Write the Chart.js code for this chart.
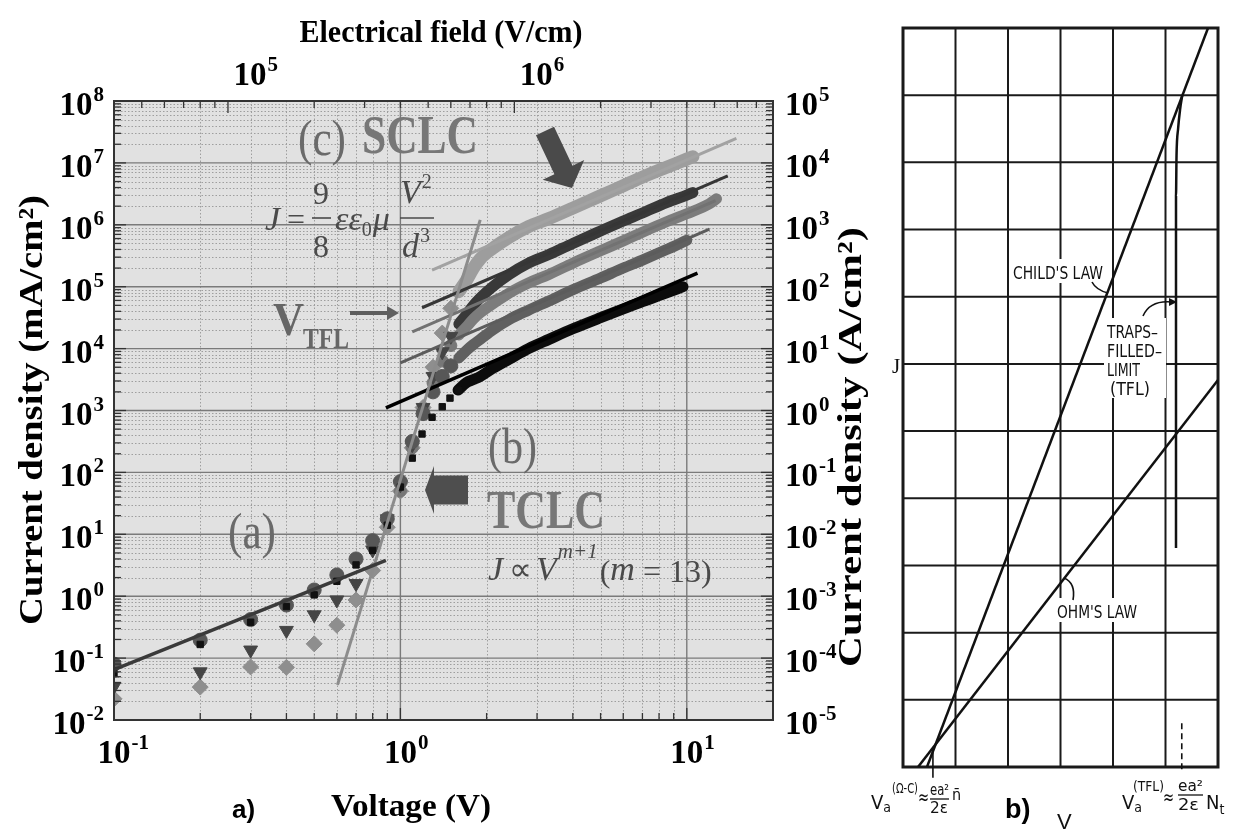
<!DOCTYPE html>
<html>
<head>
<meta charset="utf-8">
<script src="https://cdn.jsdelivr.net/npm/chart.js@4.4.1/dist/chart.umd.min.js"></script>
<style>
  html, body { margin: 0; padding: 0; background: #fff; }
  #wrap { position: relative; width: 1234px; height: 830px; overflow: hidden; background: #fff; }
  #chartA { position: absolute; left: 0; top: 0; }
  #chartB { position: absolute; left: 860px; top: 0; }
</style>
</head>
<body>
<div id="wrap">
  <canvas id="chartA" width="1234" height="830"></canvas>
  <canvas id="chartB" width="374" height="830"></canvas>
</div>
<script>
// ---------- panel a: J-V data (V in volts, J in mA/cm^2) ----------
const lowVolts = [0.1, 0.2, 0.3, 0.4, 0.5, 0.6, 0.7, 0.8, 0.9, 1.0, 1.1, 1.2, 1.3, 1.4, 1.5];
const diamondJ  = [0.022, 0.034, 0.072, 0.071, 0.17, 0.34, 0.87, 2.6, 13, 50, 250, 1120, 5000, 17800, 44700];
const triangleJ = [0.035, 0.06, 0.135, 0.28, 0.5, 0.87, 1.6, 5.6, 17.8, 63, 280, 1120, 3550, 8900, 15800];
const circleJ   = [0.08, 0.195, 0.42, 0.72, 1.26, 2.2, 4.0, 7.9, 17.8, 71, 316, 890, 2000, 3550, 5250];

const squareVolts = [0.1, 0.2, 0.3, 0.4, 0.5, 0.6, 0.7, 0.8, 0.9, 1.0, 1.1, 1.19, 1.29, 1.4, 1.49, 1.59];
const squareJ     = [0.056, 0.166, 0.38, 0.68, 1.05, 1.74, 3.2, 5.5, 14, 58, 170, 417, 776, 1150, 1585, 2140];

const greyVolts = [1.0, 1.1, 1.2, 1.3, 1.4, 1.5];
const greyJ     = [50, 250, 1000, 2800, 6300, 11200];

// dense high-voltage sweeps
const strip1Volts = [1.6, 1.7, 1.8, 1.9, 2.1, 2.4, 2.8, 3.3, 4, 5, 6, 7, 8.5, 10, 10.5];
const strip1J = [83000, 126000, 200000, 282000, 417000, 631000, 933000, 1.26e6, 1.86e6, 2.95e6, 4.27e6, 5.89e6, 8.51e6, 1.15e7, 1.26e7];
const strip2Volts = [1.6, 1.7, 1.8, 1.9, 2.1, 2.4, 2.8, 3.3, 4, 5, 6, 7, 8.5, 10, 10.5];
const strip2J = [25100, 35500, 50100, 66100, 100000, 158000, 240000, 331000, 501000, 794000, 1.15e6, 1.55e6, 2.29e6, 3.02e6, 3.31e6];
const strip3Volts = [1.6, 1.7, 1.8, 1.9, 2.1, 2.4, 2.8, 3.3, 4, 5, 6, 7, 8.5, 10, 12, 12.7];
const strip3J = [16600, 22400, 30200, 38000, 52500, 79400, 115000, 158000, 240000, 380000, 550000, 759000, 1.12e6, 1.51e6, 2.19e6, 2.63e6];
const strip4Volts = [1.6, 1.7, 1.8, 1.9, 2.1, 2.4, 2.8, 3.3, 4, 5, 6, 7, 8.5, 10];
const strip4J = [7080, 9330, 11700, 14100, 20000, 29500, 41700, 58900, 89100, 138000, 200000, 269000, 398000, 562000];
const strip5Volts = [1.59, 1.7, 1.8, 1.9, 2.1, 2.4, 2.8, 3.3, 4, 5, 6, 7, 8.5, 9.7];
const strip5J = [2140, 2820, 3160, 3550, 4790, 6760, 10000, 14100, 20900, 31600, 43700, 57500, 79400, 100000];

// fitted lines, two end points each
const ohmFitV = [0.1, 0.89],  ohmFitJ = [0.065, 3.8];
const tclcFitV = [0.603, 1.9], tclcFitJ = [0.037, 1.2e6];
const fit1V = [1.29, 14.9], fit1J = [1.86e5, 2.5e7];
const fit2V = [1.19, 13.9], fit2J = [4.57e4, 6.17e6];
const fit3V = [1.1, 12.6],  fit3J = [1.86e4, 2.45e6];
const fit4V = [1.0, 12.0],  fit4J = [5890, 8.5e5];
const fit5V = [0.89, 10.9], fit5J = [1100, 1.66e5];

// axis ranges and labelled decades
const voltRange = [0.1, 20];
const jRange = [0.01, 1e8];        // mA/cm^2
const jRangeA = [1e-5, 1e5];       // A/cm^2
const fieldRange = [4e4, 8e6];     // V/cm
const leftExps = [-2, -1, 0, 1, 2, 3, 4, 5, 6, 7, 8];
const rightExps = [-5, -4, -3, -2, -1, 0, 1, 2, 3, 4, 5];
const bottomExps = [-1, 0, 1];
const topExps = [5, 6];

// ---------- panel b: schematic J-V on a grid ----------
const childV = [0.457, 5.81], childJ = [0, 11];
const ohmV = [0.286, 6.0], ohmJ = [0, 5.76];
const tflV = [5.2, 5.2, 5.21, 5.24, 5.28, 5.32], tflJ = [3.26, 8.5, 9.1, 9.5, 9.8, 10.0];
const crossTickV = [0.57, 0.57], crossTickJ = [0.28, -0.16];
const tflTickV = [5.31, 5.31], tflTickJ = [0.65, -0.09];

const pts = (xs, ys) => xs.map((v, i) => ({ x: v, y: ys[i] }));

const SERIF = '"Liberation Serif", "Times New Roman", serif';
const NARROW = '"Liberation Sans Narrow", "DejaVu Sans Condensed", sans-serif';
const SANS = '"Liberation Sans", Arial, sans-serif';

// text helper: optional target width squeezes the glyphs horizontally
function txt(ctx, s, x, y, font, color, align, w) {
  ctx.save();
  ctx.font = font;
  ctx.fillStyle = color;
  ctx.textAlign = 'left';
  ctx.textBaseline = 'alphabetic';
  const m = ctx.measureText(s).width;
  const sx = w ? w / m : 1;
  let left = x;
  if (align === 'center') left = x - m * sx / 2;
  else if (align === 'right') left = x - m * sx;
  ctx.translate(left, y);
  ctx.scale(sx, 1);
  ctx.fillText(s, 0, 0);
  ctx.restore();
  return left + m * sx;
}

// "10" with a raised exponent, y is the middle of the digits
function power(ctx, exp, x, y, align) {
  const base = 'bold 33px ' + SERIF, sup = 'bold 21px ' + SERIF;
  ctx.font = base; const wb = ctx.measureText('10').width;
  ctx.font = sup; const ws = ctx.measureText(String(exp)).width;
  let x0 = x;
  if (align === 'center') x0 = x - wb / 2;
  else if (align === 'right') x0 = x - wb - ws - 1;
  txt(ctx, '10', x0, y + 11, base, '#000');
  txt(ctx, String(exp), x0 + wb + 1, y - 3, sup, '#000');
}

function logValues(min, max) {
  const out = [];
  for (let e = Math.floor(Math.log10(min)); e <= Math.ceil(Math.log10(max)); e++) {
    for (let k = 1; k <= 9; k++) {
      const v = k * Math.pow(10, e);
      if (v >= min * 0.999 && v <= max * 1.001) out.push({ v, major: k === 1 });
    }
  }
  return out;
}

function line(ctx, x1, y1, x2, y2) {
  ctx.beginPath(); ctx.moveTo(x1, y1); ctx.lineTo(x2, y2); ctx.stroke();
}

function blockArrow(ctx, tx, ty, fx, fy, shaftW, headW, headL, color) {
  const dx = tx - fx, dy = ty - fy, L = Math.hypot(dx, dy);
  const ux = dx / L, uy = dy / L, nx = -uy, ny = ux;
  const bx = tx - ux * headL, by = ty - uy * headL;
  ctx.save();
  ctx.fillStyle = color;
  ctx.beginPath();
  ctx.moveTo(fx + nx * shaftW / 2, fy + ny * shaftW / 2);
  ctx.lineTo(bx + nx * shaftW / 2, by + ny * shaftW / 2);
  ctx.lineTo(bx + nx * headW / 2, by + ny * headW / 2);
  ctx.lineTo(tx, ty);
  ctx.lineTo(bx - nx * headW / 2, by - ny * headW / 2);
  ctx.lineTo(bx - nx * shaftW / 2, by - ny * shaftW / 2);
  ctx.lineTo(fx - nx * shaftW / 2, fy - ny * shaftW / 2);
  ctx.closePath();
  ctx.fill();
  ctx.restore();
}

const panelA = {
  id: 'panelA',
  beforeDraw(chart) {
    const { ctx, width, height } = chart;
    ctx.save(); ctx.fillStyle = '#fff'; ctx.fillRect(0, 0, width, height); ctx.restore();
  },
  beforeDatasetsDraw(chart) {
    const { ctx, chartArea: a, scales } = chart;
    ctx.save();
    ctx.fillStyle = '#e1e1e1';
    ctx.fillRect(a.left, a.top, a.width, a.height);
    const xs = logValues(voltRange[0], voltRange[1]);
    const ys = logValues(jRange[0], jRange[1]);
    // dotted minor grid
    ctx.strokeStyle = '#9e9e9e'; ctx.lineWidth = 1; ctx.setLineDash([1.5, 2]);
    xs.filter(t => !t.major).forEach(t => {
      const p = Math.round(scales.x.getPixelForValue(t.v)) + 0.5;
      line(ctx, p, a.top, p, a.bottom);
    });
    ys.filter(t => !t.major).forEach(t => {
      const p = Math.round(scales.y.getPixelForValue(t.v)) + 0.5;
      line(ctx, a.left, p, a.right, p);
    });
    // solid decade grid
    ctx.setLineDash([]);
    ctx.strokeStyle = '#7a7a7a'; ctx.lineWidth = 1.4;
    xs.filter(t => t.major).forEach(t => {
      const p = scales.x.getPixelForValue(t.v);
      line(ctx, p, a.top, p, a.bottom);
    });
    ys.filter(t => t.major).forEach(t => {
      const p = scales.y.getPixelForValue(t.v);
      line(ctx, a.left, p, a.right, p);
    });
    ctx.restore();
  },
  afterDatasetsDraw(chart) {
    const { ctx, chartArea: a, scales } = chart;
    ctx.save();
    // frame and inward ticks
    ctx.strokeStyle = '#333'; ctx.lineWidth = 2;
    ctx.strokeRect(a.left, a.top, a.width, a.height);
    ctx.lineWidth = 1.3;
    logValues(jRange[0], jRange[1]).forEach(t => {
      const p = scales.y.getPixelForValue(t.v), L = t.major ? 12 : 7;
      line(ctx, a.left, p, a.left + L, p);
    });
    logValues(jRangeA[0], jRangeA[1]).forEach(t => {
      const p = scales.yA.getPixelForValue(t.v), L = t.major ? 12 : 7;
      line(ctx, a.right, p, a.right - L, p);
    });
    logValues(voltRange[0], voltRange[1]).forEach(t => {
      const p = scales.x.getPixelForValue(t.v), L = t.major ? 12 : 7;
      line(ctx, p, a.bottom, p, a.bottom - L);
    });
    logValues(fieldRange[0], fieldRange[1]).forEach(t => {
      const p = scales.xE.getPixelForValue(t.v), L = t.major ? 12 : 7;
      line(ctx, p, a.top, p, a.top + L);
    });

    // tick labels
    leftExps.forEach(e => power(ctx, e, a.left - 10, scales.y.getPixelForValue(Math.pow(10, e)) + 3, 'right'));
    rightExps.forEach(e => power(ctx, e, a.right + 12, scales.yA.getPixelForValue(Math.pow(10, e)) + 3, 'left'));
    bottomExps.forEach(e => power(ctx, e, scales.x.getPixelForValue(Math.pow(10, e)), 752, 'center'));
    topExps.forEach(e => power(ctx, e, scales.xE.getPixelForValue(Math.pow(10, e)) + 22, 74, 'center'));

    // axis titles
    txt(ctx, 'Electrical field (V/cm)', 441, 42, 'bold 32px ' + SERIF, '#000', 'center', 283);
    txt(ctx, 'Voltage (V)', 411, 816, 'bold 32px ' + SERIF, '#000', 'center', 160);
    txt(ctx, 'a)', 232, 818, 'bold 26px ' + SANS, '#000', 'left');
    ctx.save();
    ctx.translate(42, 410); ctx.rotate(-Math.PI / 2);
    txt(ctx, 'Current density (mA/cm\u00b2)', 0, 0, 'bold 34px ' + SERIF, '#000', 'center', 430);
    ctx.restore();
    ctx.save();
    ctx.translate(861, 447); ctx.rotate(-Math.PI / 2);
    txt(ctx, 'Current density (A/cm\u00b2)', 0, 0, 'bold 34px ' + SERIF, '#000', 'center', 440);
    ctx.restore();

    // regime labels
    const g1 = '#6a6a6a', g2 = '#777';
    txt(ctx, '(c)', 298, 155, '50px ' + SERIF, g1, 'left', 48);
    txt(ctx, 'SCLC', 362, 153, 'bold 54px ' + SERIF, g2, 'left', 116);
    txt(ctx, '(b)', 488, 463, '50px ' + SERIF, g1, 'left', 49);
    txt(ctx, 'TCLC', 487, 528, 'bold 54px ' + SERIF, g2, 'left', 118);
    txt(ctx, '(a)', 228, 548, '50px ' + SERIF, g1, 'left', 48);

    // Mott-Gurney relation
    const eq = '#4a4a4a', it = 'italic 34px ' + SERIF, rm = '32px ' + SERIF;
    txt(ctx, 'J', 265, 230, it, eq, 'left');
    txt(ctx, '=', 287, 230, rm, eq, 'left');
    txt(ctx, '9', 321, 204, rm, eq, 'center');
    ctx.strokeStyle = eq; ctx.lineWidth = 1.6;
    line(ctx, 312, 218, 331, 218);
    txt(ctx, '8', 321, 257, rm, eq, 'center');
    let ex = txt(ctx, '\u03b5\u03b5', 335, 230, it, eq, 'left');
    ex = txt(ctx, '0', ex, 236, '20px ' + SERIF, eq, 'left');
    txt(ctx, '\u03bc', ex + 1, 230, it, eq, 'left');
    ex = txt(ctx, 'V', 400, 203, it, eq, 'left');
    txt(ctx, '2', ex + 1, 188, '20px ' + SERIF, eq, 'left');
    line(ctx, 400, 218, 434, 218);
    ex = txt(ctx, 'd', 402, 257, it, eq, 'left');
    txt(ctx, '3', ex + 1, 242, '20px ' + SERIF, eq, 'left');

    // trap-limited power law
    ex = txt(ctx, 'J', 488, 580, it, eq, 'left');
    ex = txt(ctx, '\u221d', ex + 6, 580, rm, eq, 'left');
    ex = txt(ctx, 'V', ex + 4, 580, it, eq, 'left');
    ex = txt(ctx, 'm+1', ex + 1, 558, 'italic 21px ' + SERIF, eq, 'left');
    ex = txt(ctx, '(', ex + 2, 582, rm, eq, 'left');
    ex = txt(ctx, 'm', ex, 580, it, eq, 'left');
    ex = txt(ctx, ' = 13)', ex, 582, rm, eq, 'left');

    // V_TFL marker
    txt(ctx, 'V', 273, 335, 'bold 46px ' + SERIF, '#666', 'left', 31);
    txt(ctx, 'TFL', 303, 348, 'bold 30px ' + SERIF, '#666', 'left', 46);
    ctx.strokeStyle = '#5e5e5e'; ctx.lineWidth = 4;
    line(ctx, 350, 313, 390, 313);
    ctx.fillStyle = '#5e5e5e';
    ctx.beginPath(); ctx.moveTo(399, 313); ctx.lineTo(387, 306); ctx.lineTo(387, 320); ctx.closePath(); ctx.fill();

    // block arrows
    blockArrow(ctx, 572, 188, 545, 131, 20, 46, 20, '#4a4a4a');
    blockArrow(ctx, 425, 490, 468, 490, 29, 48, 9, '#4e4e4e');
    ctx.restore();
  }
};

const lineSet = (xs, ys, color, w) => ({
  data: pts(xs, ys), borderColor: color, borderWidth: w, pointRadius: 0, showLine: true, fill: false
});
const markSet = (xs, ys, color, style, r, rot) => ({
  data: pts(xs, ys), showLine: false, pointStyle: style, pointRadius: r, pointRotation: rot || 0,
  backgroundColor: color, borderColor: color, borderWidth: 1
});
const stripSet = (xs, ys, color, w) => ({
  data: pts(xs, ys), borderColor: color, borderWidth: w, pointRadius: 0, showLine: true,
  fill: false, cubicInterpolationMode: 'monotone', borderCapStyle: 'round'
});

new Chart(document.getElementById('chartA'), {
  type: 'scatter',
  data: {
    datasets: [
      lineSet(ohmFitV, ohmFitJ, '#3a3a3a', 3.5),
      lineSet(tclcFitV, tclcFitJ, '#8c8c8c', 3),
      lineSet(fit1V, fit1J, '#a2a2a2', 3),
      lineSet(fit2V, fit2J, '#363636', 3),
      lineSet(fit3V, fit3J, '#727272', 3),
      lineSet(fit4V, fit4J, '#5c5c5c', 3),
      lineSet(fit5V, fit5J, '#000', 3.5),
      markSet(squareVolts, squareJ, '#111', 'rect', 4.5),
      markSet(lowVolts, circleJ, '#575757', 'circle', 7),
      markSet(lowVolts, triangleJ, '#454545', 'triangle', 8, 180),
      markSet(greyVolts, greyJ, '#777', 'circle', 6),
      markSet(lowVolts, diamondJ, '#8e8e8e', 'rectRot', 8),
      stripSet(strip5Volts, strip5J, '#0c0c0c', 11),
      stripSet(strip4Volts, strip4J, '#606060', 11),
      stripSet(strip3Volts, strip3J, '#7c7c7c', 11),
      stripSet(strip2Volts, strip2J, '#393939', 11),
      stripSet(strip1Volts, strip1J, '#9d9d9d', 13)
    ]
  },
  options: {
    responsive: false,
    animation: false,
    layout: { padding: { left: 114, top: 101, right: 461, bottom: 110 } },
    plugins: { legend: { display: false }, tooltip: { enabled: false } },
    scales: {
      x: { type: 'logarithmic', min: voltRange[0], max: voltRange[1], display: false },
      xE: { type: 'logarithmic', position: 'top', min: fieldRange[0], max: fieldRange[1], display: false },
      y: { type: 'logarithmic', min: jRange[0], max: jRange[1], display: false },
      yA: { type: 'logarithmic', position: 'right', min: jRangeA[0], max: jRangeA[1], display: false }
    }
  },
  plugins: [panelA]
});

// ---------- panel b (transparent canvas over the right part of the page) ----------
const panelB = {
  id: 'panelB',
  beforeDatasetsDraw(chart) {
    const { ctx, chartArea: a, scales } = chart;
    ctx.save();
    ctx.strokeStyle = '#1a1a1a'; ctx.lineWidth = 2;
    for (let i = 1; i < 6; i++) {
      const p = scales.x.getPixelForValue(i);
      line(ctx, p, a.top, p, a.bottom);
    }
    for (let j = 1; j < 11; j++) {
      const p = scales.y.getPixelForValue(j);
      line(ctx, a.left, p, a.right, p);
    }
    ctx.lineWidth = 3;
    ctx.strokeRect(a.left, a.top, a.width, a.height);
    ctx.restore();
  },
  afterDatasetsDraw(chart) {
    const { ctx } = chart;
    ctx.save();
    const boxed = (s, x, y, w, size) => {
      ctx.fillStyle = '#fff';
      ctx.fillRect(x - 3, y - size - 2, w + 6, size + 6);
      txt(ctx, s, x, y, size + 'px ' + NARROW, '#111', 'left', w);
    };
    boxed("CHILD'S LAW", 153, 279, 90, 18);
    ctx.fillStyle = '#fff';
    ctx.fillRect(244, 318, 62, 80);
    txt(ctx, 'TRAPS\u2013', 247, 338, '18px ' + NARROW, '#111', 'left', 51);
    txt(ctx, 'FILLED\u2013', 247, 357, '18px ' + NARROW, '#111', 'left', 55);
    txt(ctx, 'LIMIT', 247, 376, '18px ' + NARROW, '#111', 'left', 33);
    txt(ctx, '(TFL)', 250, 395, '18px ' + NARROW, '#111', 'left', 40);
    boxed("OHM'S LAW", 197, 618, 80, 18);

    // leaders
    ctx.strokeStyle = '#111'; ctx.lineWidth = 1.6;
    ctx.beginPath(); ctx.moveTo(232, 282); ctx.quadraticCurveTo(236, 290, 248, 293); ctx.stroke();
    ctx.beginPath(); ctx.moveTo(283, 316); ctx.quadraticCurveTo(290, 300, 312, 302); ctx.stroke();
    ctx.fillStyle = '#111';
    ctx.beginPath(); ctx.moveTo(317, 302); ctx.lineTo(309, 298); ctx.lineTo(309, 306); ctx.closePath(); ctx.fill();
    ctx.beginPath(); ctx.moveTo(213, 600); ctx.quadraticCurveTo(216, 583, 204, 578); ctx.stroke();

    // axis letters
    txt(ctx, 'J', 32, 373, '21px ' + SERIF, '#111', 'left');
    txt(ctx, 'V', 197, 829, '22px ' + SANS, '#111', 'left');
    txt(ctx, 'b)', 145, 818, 'bold 27px ' + SANS, '#000', 'left');

    // threshold voltages
    const f = '20px ' + NARROW, fs = '14px ' + NARROW, ff = '16px ' + NARROW, c = '#111';
    let ex = txt(ctx, 'V', 11, 809, f, c, 'left');
    txt(ctx, 'a', ex, 812, fs, c, 'left');
    txt(ctx, '(\u03a9-C)', 32, 793, fs, c, 'left', 26);
    txt(ctx, '\u2248', 58, 804, f, c, 'left', 11);
    txt(ctx, 'ea\u00b2', 70, 795, ff, c, 'left', 19);
    ctx.lineWidth = 1.3; line(ctx, 70, 799, 89, 799);
    txt(ctx, '2\u03b5', 70, 813, ff, c, 'left', 18);
    txt(ctx, 'n\u0304', 92, 800, ff, c, 'left');

    ex = txt(ctx, 'V', 262, 809, f, c, 'left');
    txt(ctx, 'a', ex, 812, fs, c, 'left');
    txt(ctx, '(TFL)', 273, 791, fs, c, 'left', 31);
    txt(ctx, '\u2248', 303, 804, f, c, 'left', 11);
    txt(ctx, 'ea\u00b2', 318, 791, ff, c, 'left', 25);
    line(ctx, 318, 795, 343, 795);
    txt(ctx, '2\u03b5', 318, 810, ff, c, 'left', 21);
    ex = txt(ctx, 'N', 346, 809, f, c, 'left');
    txt(ctx, 't', ex, 814, fs, c, 'left');
    ctx.restore();
  }
};

new Chart(document.getElementById('chartB'), {
  type: 'scatter',
  data: {
    datasets: [
      lineSet(childV, childJ, '#111', 2.5),
      lineSet(ohmV, ohmJ, '#111', 2.5),
      Object.assign(lineSet(tflV, tflJ, '#111', 2.5), { cubicInterpolationMode: 'monotone' }),
      Object.assign(lineSet(crossTickV, crossTickJ, '#111', 1.6), { clip: false }),
      Object.assign(lineSet(tflTickV, tflTickJ, '#111', 1.6), { clip: false, borderDash: [6, 4] })
    ]
  },
  options: {
    responsive: false,
    animation: false,
    layout: { padding: { left: 43, top: 28, right: 16, bottom: 63 } },
    plugins: { legend: { display: false }, tooltip: { enabled: false } },
    scales: {
      x: { type: 'linear', min: 0, max: 6, display: false },
      y: { type: 'linear', min: 0, max: 11, display: false }
    }
  },
  plugins: [panelB]
});
</script>
</body>
</html>
